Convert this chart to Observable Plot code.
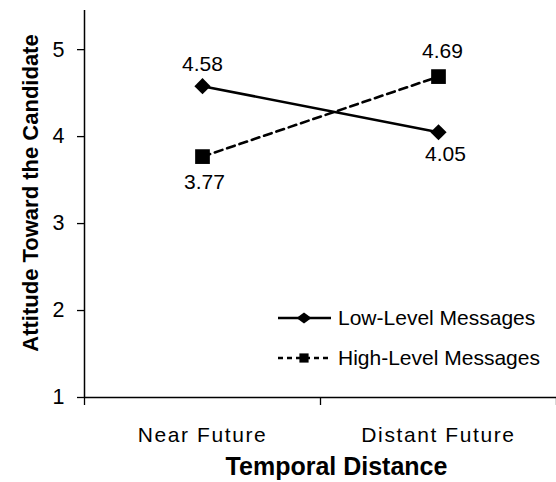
<!DOCTYPE html>
<html>
<head>
<meta charset="utf-8">
<script src="https://cdn.jsdelivr.net/npm/d3@7"></script>
<script src="https://cdn.jsdelivr.net/npm/@observablehq/plot@0.6"></script>
<style>
  html, body { margin: 0; padding: 0; background: #fff; }
  #chart { position: relative; width: 556px; height: 482px; }
  #chart svg { font-family: "Liberation Sans", Arial, sans-serif; }
</style>
</head>
<body>
<div id="chart"></div>
<script>
// ---- data ----
const categories = ["Near Future", "Distant Future"];
const seriesNames = ["Low-Level Messages", "High-Level Messages"];
const lowLevel = [4.58, 4.05];
const highLevel = [3.77, 4.69];
const yTicks = [1, 2, 3, 4, 5];
const yLabel = "Attitude Toward the Candidate";
const xLabel = "Temporal Distance";

// build table: category index i -> x position i + 0.5 on a [0, n] linear scale
const rows = [];
categories.forEach((c, i) => {
  rows.push({series: seriesNames[0], cat: c, xi: i + 0.5, value: lowLevel[i]});
  rows.push({series: seriesNames[1], cat: c, xi: i + 0.5, value: highLevel[i]});
});
const low = rows.filter(d => d.series === seriesNames[0]);
const high = rows.filter(d => d.series === seriesNames[1]);
const catPos = categories.map((c, i) => i + 0.5);
const bounds = d3.range(categories.length + 1);

const labelOffset = {
  "Low-Level Messages|Near Future": {dx: 0, dy: -22},
  "Low-Level Messages|Distant Future": {dx: 7, dy: 22},
  "High-Level Messages|Near Future": {dx: 2, dy: 26},
  "High-Level Messages|Distant Future": {dx: 4, dy: -25}
};

const chart = Plot.plot({
  width: 556,
  height: 482,
  marginLeft: 84,
  marginRight: 0,
  marginTop: 10,
  marginBottom: 85,
  style: {fontFamily: "Liberation Sans, Arial, sans-serif", fontSize: "20px", color: "#000", background: "#fff"},
  x: {domain: [0, categories.length], axis: null},
  y: {domain: [1, 5.45], axis: null},
  marks: [
    // y axis
    Plot.axisY({ticks: yTicks, tickSize: 7, tickPadding: 13, tickFormat: d3.format("d"), fontSize: 21.5, stroke: "#000", strokeWidth: 1.3, label: null}),
    // x ticks at band boundaries
    Plot.axisX({ticks: bounds, tickSize: 8, tickFormat: () => "", stroke: "#000", strokeWidth: 1.3, label: null}),
    // x category labels
    Plot.axisX({ticks: catPos, tickSize: 0, tickPadding: 30, tickFormat: (d, i) => categories[i], fontSize: 21, label: null}),
    Plot.ruleX([0], {stroke: "#000", strokeWidth: 1.5}),
    Plot.ruleY([1], {stroke: "#000", strokeWidth: 1.5}),
    // lines
    Plot.line(low, {x: "xi", y: "value", stroke: "#000", strokeWidth: 2.6}),
    Plot.line(high, {x: "xi", y: "value", stroke: "#000", strokeWidth: 2.6, strokeDasharray: "8,5"}),
    // markers
    Plot.dot(low, {x: "xi", y: "value", symbol: "diamond2", r: 7.3, fill: "#000", stroke: "none"}),
    Plot.dot(high, {x: "xi", y: "value", symbol: "square", r: 8.3, fill: "#000", stroke: "none"}),
    // value labels
    Plot.text(rows, {
      x: "xi", y: "value",
      text: d => d.value.toFixed(2),
      fontSize: 21, fill: "#000",
      render: (index, scales, values, dims, ctx, next) => {
        const g = next(index, scales, values, dims, ctx);
        d3.select(g).selectAll("text").each(function(_, k) {
          const d = rows[index[k]];
          const o = labelOffset[d.series + "|" + d.cat];
          const t = d3.select(this);
          const tr = t.attr("transform") || "";
          t.attr("transform", tr + ` translate(${o.dx},${o.dy})`);
        });
        return g;
      }
    }),
    // axis titles
    Plot.text([xLabel], {frameAnchor: "bottom", dx: 16, dy: 77, fontSize: 25, fontWeight: "bold", fill: "#000"}),
    Plot.text([yLabel], {frameAnchor: "left", textAnchor: "middle", rotate: -90, dx: -54, dy: -11, fontSize: 22, fontWeight: "bold", fill: "#000"})
  ]
});

document.getElementById("chart").appendChild(chart);

const svg = d3.select(chart);
// wider letter spacing of the category labels, as in the original
svg.selectAll('g[aria-label="x-axis tick label"] text').style("letter-spacing", "1.6px");

// legend (drawn into the svg, beside the plot area)
const leg = svg.append("g")
  .attr("font-family", "Liberation Sans, Arial, sans-serif")
  .attr("font-size", 21)
  .attr("text-anchor", "start");
const legendItems = [
  {name: seriesNames[0], dash: null, path: "M-7.5,0L0,-5.5L7.5,0L0,5.5Z", y: 318},
  {name: seriesNames[1], dash: "5,4", path: "M-4.6,-4.6H4.6V4.6H-4.6Z", y: 358}
];
legendItems.forEach(it => {
  leg.append("line").attr("x1", 278).attr("x2", 331).attr("y1", it.y).attr("y2", it.y)
    .attr("stroke", "#000").attr("stroke-width", 2.4).attr("stroke-dasharray", it.dash);
  leg.append("path").attr("d", it.path).attr("transform", `translate(304,${it.y})`).attr("fill", "#000");
  leg.append("text").attr("x", 338).attr("y", it.y).attr("dy", "0.35em").attr("fill", "#000").text(it.name);
});
</script>
</body>
</html>
